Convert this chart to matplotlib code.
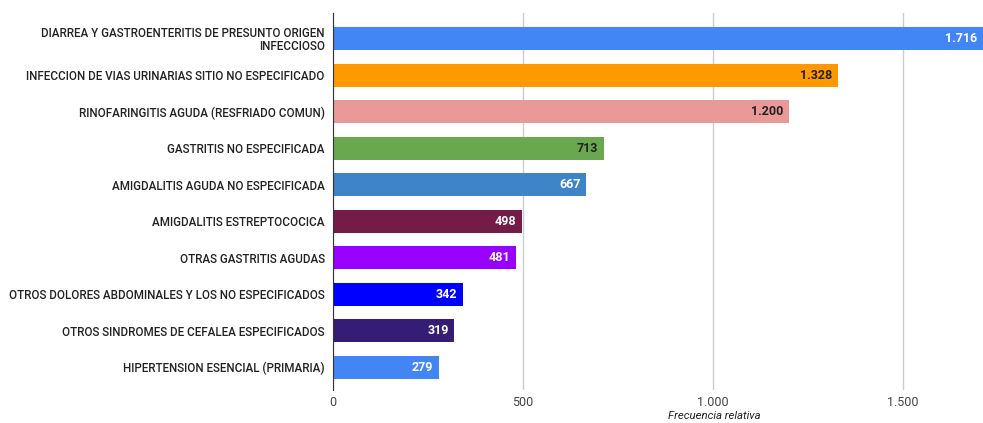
import matplotlib
matplotlib.use("Agg")
import matplotlib.pyplot as plt
from matplotlib.ticker import FuncFormatter

categories = [
    "DIARREA Y GASTROENTERITIS DE PRESUNTO ORIGEN\nINFECCIOSO",
    "INFECCION DE VIAS URINARIAS SITIO NO ESPECIFICADO",
    "RINOFARINGITIS AGUDA (RESFRIADO COMUN)",
    "GASTRITIS NO ESPECIFICADA",
    "AMIGDALITIS AGUDA NO ESPECIFICADA",
    "AMIGDALITIS ESTREPTOCOCICA",
    "OTRAS GASTRITIS AGUDAS",
    "OTROS DOLORES ABDOMINALES Y LOS NO ESPECIFICADOS",
    "OTROS SINDROMES DE CEFALEA ESPECIFICADOS",
    "HIPERTENSION ESENCIAL (PRIMARIA)",
]
values = [1716, 1328, 1200, 713, 667, 498, 481, 342, 319, 279]
colors = ["#4285F4", "#FF9900", "#EA9999", "#6AA84F", "#3D85C6",
          "#741B47", "#9900FF", "#0000FF", "#351C75", "#4285F4"]
label_colors = ["white", "#222222", "#222222", "#222222", "white",
                "white", "white", "white", "white", "white"]
xticks = [0, 500, 1000, 1500]

plt.rcParams['font.family'] = ['Roboto', 'DejaVu Sans']

fig = plt.figure(figsize=(9.83, 4.23), dpi=100)
ax = fig.add_axes([333/983, 1-390/423, 1-333/983, (390-13)/423])

y = list(range(len(categories)))
ax.barh(y, values, height=0.63, color=colors, zorder=3)
ax.set_ylim(9.63, -0.71)
xmax = 1711
ax.set_xlim(0, xmax)

for yi, v, lc in zip(y, values, label_colors):
    ax.annotate(f"{v:,}".replace(",", "."), xy=(min(v, xmax), yi),
                xytext=(-4, 0), textcoords="offset points",
                ha="right", va="center", fontsize=9, fontweight="bold",
                color=lc, zorder=4)

ax.set_yticks(y)
ax.set_yticklabels(categories, fontsize=8.35, color="#222222", fontweight="medium",
                   linespacing=1.0)
ax.tick_params(axis="y", length=0, pad=6)
for lab in ax.get_yticklabels():
    lab.set_multialignment("right")

ax.set_xticks(xticks)
ax.xaxis.set_major_formatter(FuncFormatter(lambda v, p: f"{int(v):,}".replace(",", ".")))
ax.tick_params(axis="x", length=0, pad=4, labelsize=9, labelcolor="#444444")
ax.grid(axis="x", color="#cccccc", linewidth=1, zorder=0)
for s in ["top", "right", "bottom"]:
    ax.spines[s].set_visible(False)
ax.spines["left"].set_color("#333333")
ax.spines["left"].set_zorder(5)

ax.set_xlabel("Frecuencia relativa", fontsize=8.2, style="italic", color="#222222")
ax.xaxis.set_label_coords((714-333)/(983-333), -0.055)

fig.savefig("out.png", dpi=100)
